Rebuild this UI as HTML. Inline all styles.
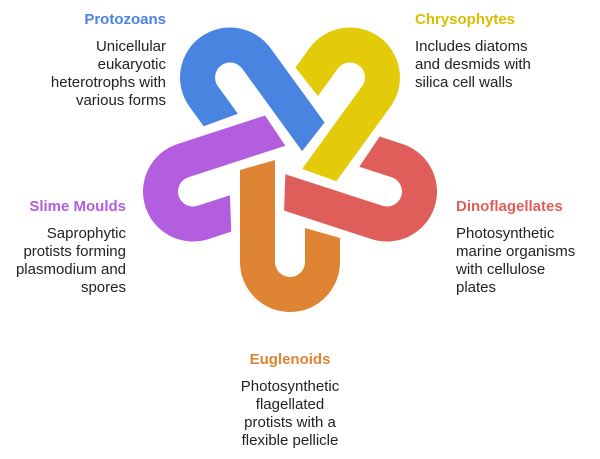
<!DOCTYPE html>
<html><head><style>
body{margin:0;width:600px;height:459px;background:#fff;position:relative;overflow:hidden;font-family:"Liberation Sans",sans-serif;}
.b{position:absolute;font-size:15px;line-height:18px;color:#222;}
.t{font-weight:bold;font-size:15px;display:block;margin-bottom:9px;}
.r{text-align:right}
</style></head><body>
<svg width="600" height="459" style="position:absolute;left:0;top:0">
<defs><path id="u" d="M240,170 L275,160 L275,262 A15,15 0 0 0 305,262 L305,228 L340,238 L340,262 A50,50 0 0 1 240,262 Z"/></defs>
<use href="#u" fill="#DE8432"/>
<use href="#u" fill="#E05E5A" transform="rotate(-72 290 160)"/>
<use href="#u" fill="#E3CB0A" transform="rotate(-144 290 160)"/>
<use href="#u" fill="#4A84E1" transform="rotate(144 290 160)"/>
<use href="#u" fill="#B35DDF" transform="rotate(72 290 160)"/>
</svg>
<div class="b r" style="right:434px;top:11px"><span class="t" style="color:#4A84E1">Protozoans</span>Unicellular<br>eukaryotic<br>heterotrophs with<br>various forms</div>
<div class="b" style="left:415px;top:11px"><span class="t" style="color:#D9BE00">Chrysophytes</span>Includes diatoms<br>and desmids with<br>silica cell walls</div>
<div class="b r" style="right:474px;top:198px"><span class="t" style="color:#B35DDF">Slime Moulds</span>Saprophytic<br>protists forming<br>plasmodium and<br>spores</div>
<div class="b" style="left:456px;top:198px"><span class="t" style="color:#E05E5A">Dinoflagellates</span>Photosynthetic<br>marine organisms<br>with cellulose<br>plates</div>
<div class="b" style="left:190px;width:200px;text-align:center;top:351px"><span class="t" style="color:#DE8432">Euglenoids</span>Photosynthetic<br>flagellated<br>protists with a<br>flexible pellicle</div>
</body></html>
